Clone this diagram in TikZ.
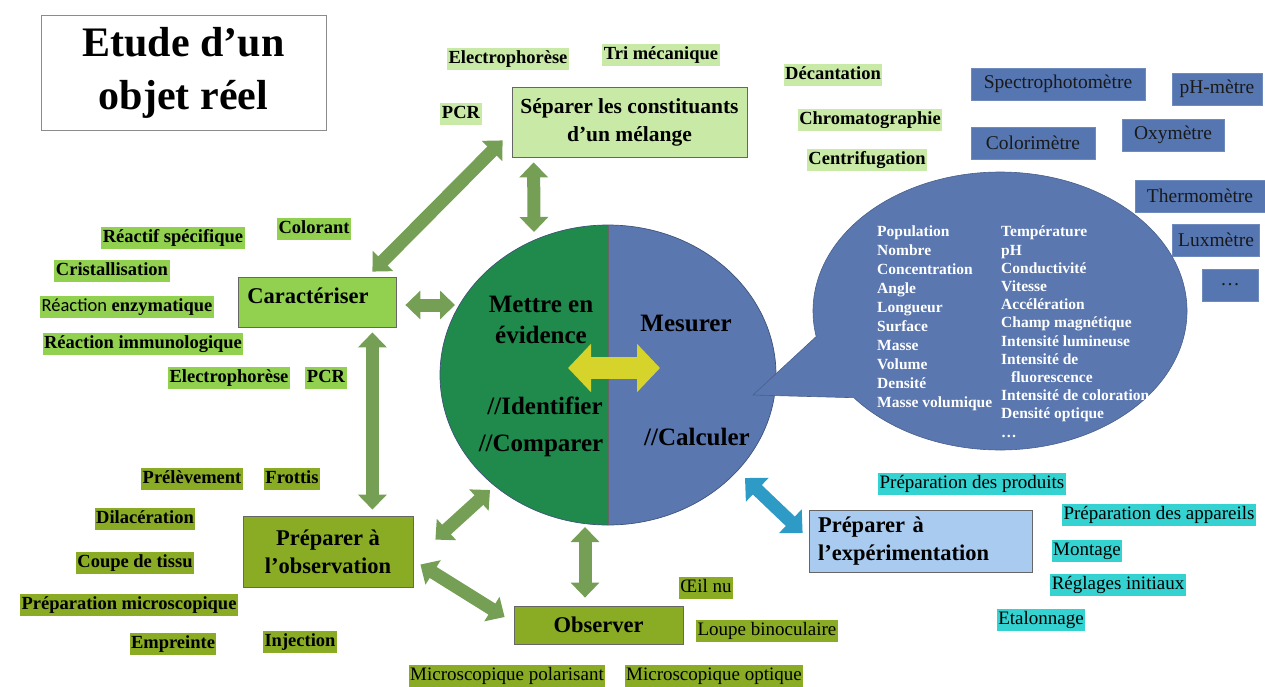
\documentclass[tikz,border=0pt]{standalone}
\usepackage{fontspec}
\setmainfont{Liberation Serif}
\newfontfamily\calibri{Carlito}
\usepackage{tikz}
\usetikzlibrary{positioning,shapes.geometric,shapes.callouts,arrows.meta}

\definecolor{sepgreen}{HTML}{C9E9A7}
\definecolor{cargreen}{HTML}{92D050}
\definecolor{obsolive}{HTML}{8AAB24}
\definecolor{ctrgreen}{HTML}{1F8A4C}
\definecolor{ctrblue}{HTML}{5A77AF}
\definecolor{instblue}{HTML}{5676B2}
\definecolor{expblue}{HTML}{A9CBEF}
\definecolor{expcyan}{HTML}{35D2D2}
\definecolor{arrgreen}{HTML}{759F55}
\definecolor{arrblue}{HTML}{2E9AC6}
\definecolor{arryellow}{HTML}{D6D32A}

\newcommand\lblfont{\fontsize{18.5}{22}\selectfont\bfseries}
\newcommand\lblregfont{\fontsize{19}{22}\selectfont}
\newcommand\boxfont{\fontsize{22.5}{28}\selectfont\bfseries}
\newcommand\ctrfont{\fontsize{25}{31}\selectfont\bfseries}

\tikzset{
  lbl/.style={inner xsep=1.5pt, inner ysep=0pt, minimum height=22pt,
    text height=13.5pt, text depth=4.5pt, font=\lblfont},
  lblreg/.style={lbl, font=\lblregfont},
  mainbox/.style={draw=black!60, line width=0.8pt, inner sep=0pt,
    align=center, font=\boxfont},
  instbox/.style={fill=instblue, draw=instblue!85!white, line width=0.6pt,
    minimum height=32pt, inner sep=0pt, text=black!90,
    font=\fontsize{19.5}{22}\selectfont},
  bubtxt/.style={anchor=north west, inner sep=0pt, align=left, text=white},
  link/.style={line width=13pt, draw=arrgreen,
    {Triangle[length=15pt,width=28pt]}-{Triangle[length=15pt,width=28pt]}}
}

\begin{document}
\begin{tikzpicture}[x=1pt, y=-1pt]
\useasboundingbox (0,0) rectangle (1265,686);

\node [draw=black!45, line width=1pt, minimum width=285pt, minimum height=115pt,
  align=center, font=\fontsize{42}{53}\selectfont\bfseries] (title) at (183.5,72.5)
  {Etude d’un\\objet réel};

\node [mainbox, fill=sepgreen, minimum width=235pt, minimum height=70pt,
  font=\fontsize{21.5}{28}\selectfont\bfseries] (sep) at (629.5,122)
  {Séparer les constituants\\d’un mélange};
\node [mainbox, fill=cargreen, minimum width=158pt, minimum height=50pt,
  text depth=13pt] (car) at (317,302) {Caractériser\hspace*{18pt}};
\node [mainbox, fill=obsolive, minimum width=170pt, minimum height=71pt] (prepobs) at (328,551.5) {Préparer à\\l’observation};
\node [mainbox, fill=obsolive, minimum width=169pt, minimum height=38pt] (observer) at (598.5,625) {Observer};
\node [mainbox, fill=expblue, minimum width=223pt, minimum height=62pt, align=left,
  text width=205pt] (prepexp) at (920.5,541) {Préparer à\\l’expérimentation};

\foreach \t/\px/\py [count=\i] in {Electrophorèse/508/59, Tri mécanique/661/55,
    Décantation/833/75, PCR/461/114, Chromatographie/870/120, Centrifugation/867/160}
  \node [lbl, fill=sepgreen] (sep-\i) at (\px,\py) {\t};

\foreach \t/\px/\py [count=\i] in {Colorant/314/229, Réactif spécifique/173/238,
    Cristallisation/112/271, {{\calibri\mdseries Réaction} enzymatique}/127/307,
    Réaction immunologique/143/344, Electrophorèse/229/378, PCR/326/378}
  \node [lbl, fill=cargreen] (car-\i) at (\px,\py) {\t};

\foreach \t/\px/\py [count=\i] in {Prélèvement/192/479, Frottis/292/479,
    Dilacération/145/519, Coupe de tissu/135/563, Préparation microscopique/129/605,
    Empreinte/173/644, Injection/300/642}
  \node [lbl, fill=obsolive] (obs-\i) at (\px,\py) {\t};

\foreach \t/\px/\py [count=\i] in {Œil nu/706/588, Loupe binoculaire/767/631,
    Microscopique polarisant/507/676, Microscopique optique/714/676}
  \node [lblreg, fill=obsolive] (see-\i) at (\px,\py) {\t};

\foreach \t/\px/\py [count=\i] in {Préparation des produits/972/484,
    Préparation des appareils/1159/515, Montage/1087/551,
    Réglages initiaux/1118/585, Etalonnage/1041/620}
  \node [lblreg, fill=expcyan] (exp-\i) at (\px,\py) {\t};

\foreach \t/\px/\py/\w [count=\i] in {Spectrophotomètre/1058/84/174, pH-mètre/1217/89/90,
    Colorimètre/1033/143/124, Oxymètre/1173/135/102, Thermomètre/1200/196/130,
    Luxmètre/1216/240/87, \dots/1230/285/56}
  \node [instbox, minimum width=\w pt] (inst-\i) at (\px,\py) {\t};

\node [ellipse, minimum width=336pt, minimum height=300pt, inner sep=0pt, outer sep=0pt] (ctr) at (608,375) {};
\fill [ctrgreen] (ctr.north) arc[start angle=270, end angle=90, x radius=168, y radius=150] -- cycle;
\fill [ctrblue] (ctr.north) arc[start angle=270, end angle=450, x radius=168, y radius=150] -- cycle;
\draw [ctrblue!70!black, line width=0.7pt] (ctr.center) ellipse [x radius=168, y radius=150];
\draw [black!60, line width=0.6pt] (ctr.north) -- (ctr.south);

\node [ellipse callout, callout absolute pointer={(753,395)}, callout pointer arc=28,
  fill=ctrblue, draw=ctrblue!80!black, line width=0.6pt, minimum width=374pt,
  minimum height=278pt, inner sep=0pt] (bubble) at (1000,311) {};
\node [bubtxt, font=\fontsize{15.5}{18.9}\selectfont\bfseries] (bub-l) at (877,226)
  {Population\\Nombre\\Concentration\\Angle\\Longueur\\Surface\\Masse\\Volume\\Densité\\Masse volumique};
\node [bubtxt, font=\fontsize{15.5}{18.2}\selectfont\bfseries] (bub-r) at (1001,226)
  {Température\\pH\\Conductivité\\Vitesse\\Accélération\\Champ magnétique\\Intensité lumineuse\\Intensité de\\\hspace*{10pt}fluorescence\\Intensité de coloration\\Densité optique\\\dots};

\node [align=center, font=\ctrfont] (evid) at (541,320) {Mettre en\\évidence};
\node [font=\ctrfont] (mes) at (686,323) {Mesurer};
\node [font=\ctrfont] (ident) at (545,406) {//Identifier};
\node [font=\ctrfont] (comp) at (541,446) {//Comparer};
\node [font=\ctrfont] (calc) at (697,437) {//Calculer};

\draw [link, draw=arryellow, line width=22pt,
  {Triangle[length=23pt,width=47pt]}-{Triangle[length=23pt,width=47pt]}]
  ([xshift=-40pt,yshift=7pt]ctr.center) -- ([xshift=52pt,yshift=7pt]ctr.center);

\draw [link] ([xshift=-24pt,yshift=5pt]car.north east) -- ([xshift=-9pt,yshift=17pt]sep.south west);
\draw [link] ([xshift=22pt,yshift=-5pt]sep.south west) -- ([xshift=-74pt,yshift=-7pt]ctr.north);
\draw [link] ([xshift=9pt,yshift=-3pt]car.east) -- ([xshift=15pt,yshift=70pt]ctr.west);
\draw [link] ([xshift=-24pt,yshift=-5pt]car.south east) -- ([xshift=-41pt,yshift=6pt]prepobs.north east);
\draw [link] ([xshift=22pt,yshift=-24pt]prepobs.north east) -- ([xshift=50pt,yshift=-115pt]ctr.west);
\draw [link] ([xshift=7pt,yshift=-13pt]prepobs.east) -- ([xshift=-9pt,yshift=8pt]observer.west);
\draw [link] ([xshift=-23pt,yshift=-2pt]ctr.south) -- ([xshift=-13.5pt,yshift=8pt]observer.north);
\draw [link, draw=arrblue, {Triangle[length=17pt,width=32pt]}-{Triangle[length=17pt,width=32pt]}]
  ([xshift=-31pt,yshift=-103pt]ctr.east) -- ([xshift=-6pt,yshift=8pt]prepexp.west);
\end{tikzpicture}
\end{document}
